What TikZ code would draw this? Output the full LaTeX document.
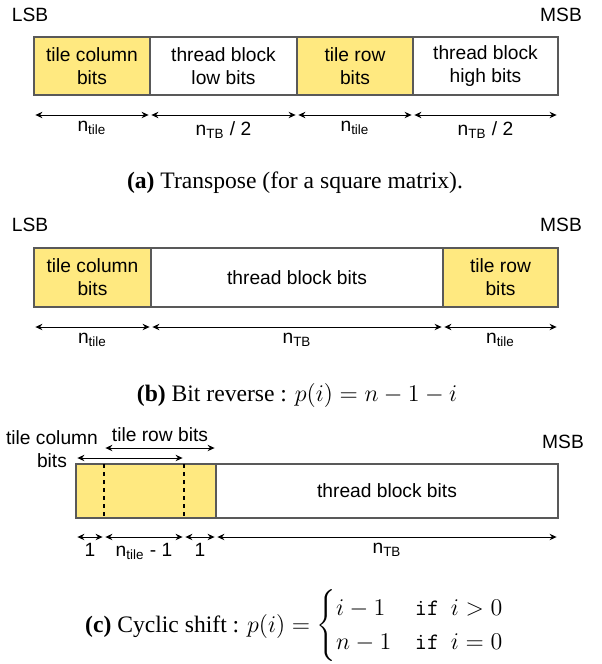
\documentclass[tikz,border=0pt]{standalone}
\usepackage{amsmath}
\usepackage{fontspec}
\setmainfont{Liberation Serif}
\setsansfont{Liberation Sans}
\usetikzlibrary{positioning,arrows.meta}
\definecolor{tileyellow}{RGB}{255,233,128}
\tikzset{
  field/.style={draw=black!65,line width=0.6pt,minimum height=29pt,inner sep=0pt,
    outer sep=0pt,align=center,anchor=north west,font=\sffamily\fontsize{9.6}{11.5}\selectfont},
  tilefield/.style={field,fill=tileyellow},
  dimline/.style={{Stealth[length=3.5pt,width=3.2pt]}-{Stealth[length=3.5pt,width=3.2pt]},
    line width=0.5pt,shorten <=0.7pt,shorten >=0.7pt},
  dimlabel/.style={font=\sffamily\fontsize{9.6}{11.5}\selectfont,inner sep=1pt},
  endlabel/.style={font=\sffamily\fontsize{9.6}{11.5}\selectfont,inner sep=0pt},
  caption/.style={font=\rmfamily\fontsize{11.8}{14}\selectfont,inner sep=0pt}
}
\begin{document}
\begin{tikzpicture}[x=0.5pt,y=-0.5pt]
\useasboundingbox (0,0) rectangle (601,664);
% (a) transpose of a square matrix
\begin{scope}
\node[endlabel] (aLSB) at (30,15) {LSB};
\node[endlabel] (aMSB) at (561,15) {MSB};
\node[tilefield,minimum width=58pt] (a1) at (34,37) {tile column\\bits};
\node[field,minimum width=73.5pt,right=0pt of a1] (a2) {thread block\\low bits};
\node[tilefield,minimum width=58pt,right=0pt of a2] (a3) {tile row\\bits};
\node[field,minimum width=72.5pt,right=0pt of a3] (a4) {thread block\\high bits};
\foreach \f/\t in {a1/{n\textsubscript{tile}},a2/{n\textsubscript{TB} / 2},a3/{n\textsubscript{tile}},a4/{n\textsubscript{TB} / 2}}{
  \draw[dimline] ([yshift=-10pt]\f.south west) -- ([yshift=-10pt]\f.south east)
    node[dimlabel,midway,below=2pt] {\t};
}
\node[caption] (acap) at (295,183) {\textbf{(a)} Transpose (for a square matrix).};
\end{scope}
% (b) bit reverse
\begin{scope}
\node[endlabel] (bLSB) at (30,225) {LSB};
\node[endlabel] (bMSB) at (561,225) {MSB};
\node[tilefield,minimum width=58.5pt,minimum height=29.5pt] (b1) at (34,248) {tile column\\bits};
\node[field,minimum width=146pt,minimum height=29.5pt,right=0pt of b1] (b2) {thread block bits};
\node[tilefield,minimum width=57.5pt,minimum height=29.5pt,right=0pt of b2] (b3) {tile row\\bits};
\foreach \f/\t in {b1/{n\textsubscript{tile}},b2/{n\textsubscript{TB}},b3/{n\textsubscript{tile}}}{
  \draw[dimline] ([yshift=-10pt]\f.south west) -- ([yshift=-10pt]\f.south east)
    node[dimlabel,midway,below=2pt] {\t};
}
\node[caption] (bcap) at (297,395) {\textbf{(b)} Bit reverse : $p(i)=n-1-i$};
\end{scope}
% (c) cyclic shift, the tile bits overlap by one
\begin{scope}
\node[endlabel] (cMSB) at (563,442) {MSB};
\node[tilefield,minimum width=70pt,minimum height=27pt] (c1) at (76,464) {};
\node[field,minimum width=171pt,minimum height=27pt,right=0pt of c1] (c2) {thread block bits};
\coordinate (d1top) at ([xshift=14pt]c1.north west);
\coordinate (d1bot) at ([xshift=14pt]c1.south west);
\coordinate (d2top) at ([xshift=54pt]c1.north west);
\coordinate (d2bot) at ([xshift=54pt]c1.south west);
\draw[line width=1pt,dash pattern=on 2pt off 2pt] (d1top) -- (d1bot);
\draw[line width=1pt,dash pattern=on 2pt off 2pt] (d2top) -- (d2bot);
\node[dimlabel,align=center] (ccol) at (52,449) {tile column\\bits};
\draw[dimline] ([yshift=3pt]c1.north west) -- ([yshift=3pt]d2top);
\draw[dimline] ([yshift=8pt]d1top) -- ([yshift=8pt]c1.north east)
  node[dimlabel,midway,above=2pt] (crow) {tile row bits};
\draw[dimline] ([yshift=-9.5pt]c1.south west) -- ([yshift=-9.5pt]d1bot)
  node[dimlabel,midway,below=2pt] {1};
\draw[dimline] ([yshift=-9.5pt]d1bot) -- ([yshift=-9.5pt]d2bot)
  node[dimlabel,midway,below=2pt] {n\textsubscript{tile} - 1};
\draw[dimline] ([yshift=-9.5pt]d2bot) -- ([yshift=-9.5pt]c1.south east)
  node[dimlabel,midway,below=2pt] {1};
\draw[dimline] ([yshift=-9.5pt]c2.south west) -- ([yshift=-9.5pt]c2.south east)
  node[dimlabel,midway,below=2pt] {n\textsubscript{TB}};
\node[caption] (ccap) at (295,626) {\textbf{(c)} Cyclic shift : $p(i)=\begin{cases}i-1 & \texttt{if}\ \ i>0\\ n-1 & \texttt{if}\ \ i=0\end{cases}$};
\end{scope}
\end{tikzpicture}
\end{document}
